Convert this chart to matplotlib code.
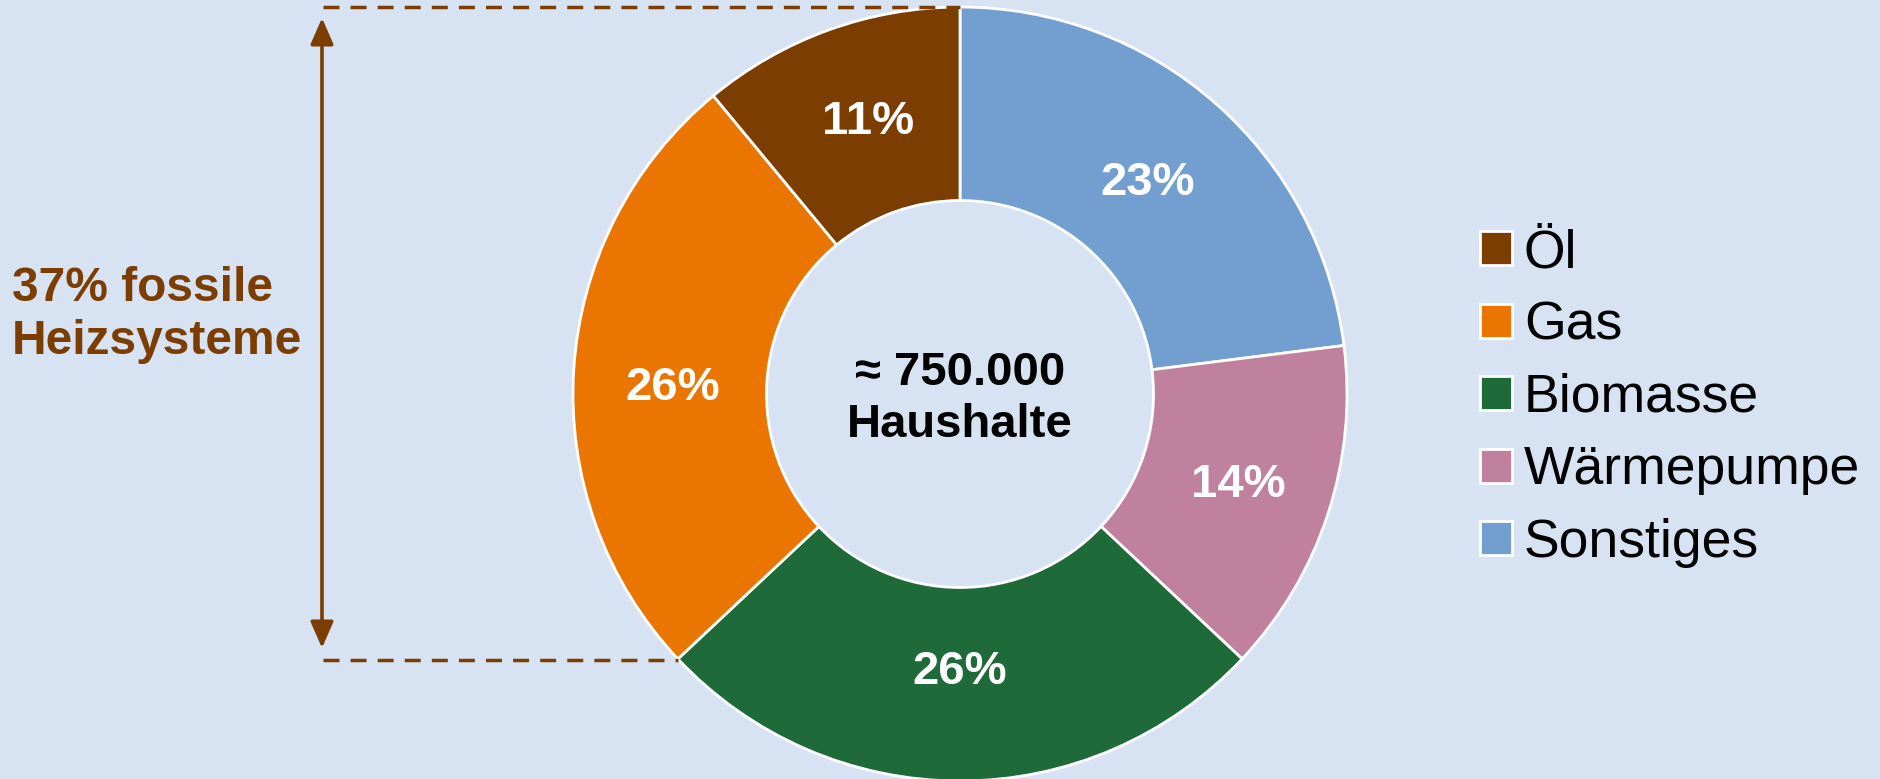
import matplotlib
matplotlib.use("Agg")
import matplotlib.pyplot as plt

plt.rcParams['font.family'] = ['Liberation Sans', 'DejaVu Sans']

# data in clockwise order from the top
labels = ['Sonstiges', 'Wärmepumpe', 'Biomasse', 'Gas', 'Öl']
shares = [23, 14, 26, 26, 11]
colors = ['#729FCF', '#BF819E', '#1E6A39', '#EA7500', '#7B3D00']
legend_order = ['Öl', 'Gas', 'Biomasse', 'Wärmepumpe', 'Sonstiges']
center_text = '≈ 750.000\nHaushalte'
side_text = '37% fossile\nHeizsysteme'

bg = '#D7E2F3'
brown = '#7B3D00'
W, H = 1881, 779

fig = plt.figure(figsize=(W / 100, H / 100), dpi=100, facecolor=bg)
ax = fig.add_axes([0, 0, 1, 1])
ax.set_facecolor(bg)

cx, cy, R = 960, H - 394, 387
wedges, _, autotexts = ax.pie(
    shares, colors=colors, startangle=90, counterclock=False,
    center=(cx, cy), radius=R, autopct='%d%%', pctdistance=0.75,
    wedgeprops=dict(width=R * 0.5, edgecolor='white', linewidth=2),
    textprops=dict(color='white', fontsize=34, fontweight='bold'))

# small nudges so the labels sit like in the original layout
nudges = [(-4, -7), (2, -1), (0, 12), (2, -12), (6, -1)]
for t, (dx, dy) in zip(autotexts, nudges):
    x, y = t.get_position()
    t.set_position((x + dx, y + dy))

ax.set_xlim(0, W)
ax.set_ylim(0, H)
ax.set_aspect('equal')
ax.axis('off')

ax.text(cx, cy - 5, center_text, ha='center', va='center', fontsize=34,
        fontweight='bold', linespacing=1.22, color='black')

# fossil bracket
dash = (0, (4.6, 3.2))
ax.plot([323, cx], [H - 7, H - 7], color=brown, lw=2.5, linestyle=dash)
ax.plot([323, 678], [H - 660, H - 660], color=brown, lw=2.5, linestyle=dash)
ax.annotate('', xy=(322, H - 648), xytext=(322, H - 18),
            arrowprops=dict(arrowstyle='<|-|>,head_length=0.8,head_width=0.35',
                            color=brown, lw=2.6, mutation_scale=20,
                            shrinkA=0, shrinkB=0))
ax.text(12, H - 315, side_text, ha='left', va='center', fontsize=34.5,
        fontweight='bold', color=brown, linespacing=1.24)

# legend
handles = [wedges[labels.index(n)] for n in legend_order]
leg = ax.legend(handles, legend_order, loc='upper left',
                bbox_to_anchor=(1480 / W, 1 - 228 / H), bbox_transform=fig.transFigure,
                frameon=False, fontsize=38.5, handlelength=0.6, handleheight=0.6,
                handletextpad=0.22, labelspacing=0.42, borderpad=0, borderaxespad=0)
for t in leg.get_texts():
    t.set_color('black')

fig.savefig('out.png', dpi=100, facecolor=bg)
